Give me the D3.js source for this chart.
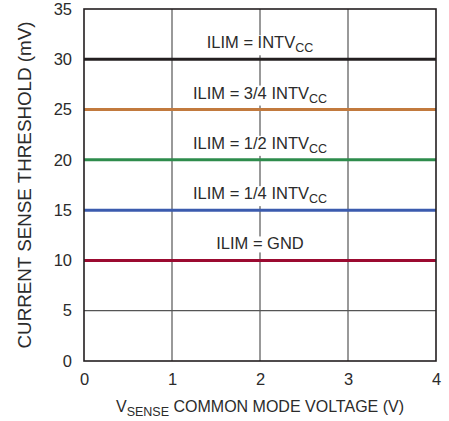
<!DOCTYPE html>
<html lang="en">
<head>
<meta charset="UTF-8">
<title>Current Sense Threshold vs Common Mode Voltage</title>
<script src="https://d3js.org/d3.v7.min.js"></script>
<style>
    body { margin: 0; background: white; }
    svg { display: block; font-family: 'Liberation Sans', Arial, sans-serif; }
    .tick text { font-size: 16.5px; fill: #2b2b2b; }
    .axis-title { font-size: 16px; fill: #2b2b2b; }
    .y-title { font-size: 18.8px; }
    .curve-label { font-size: 16.5px; fill: #2b2b2b; }
</style>
</head>
<body>
<div id="chart"></div>
<script>
// data
const xDomain = [0, 4];
const yDomain = [0, 35];
const xTicks = [0, 1, 2, 3, 4];
const yTicks = [0, 5, 10, 15, 20, 25, 30, 35];
const thresholds = [30, 25, 20, 15, 10];   // mV, flat over whole range
const seriesNames = ["INTV", "3/4 INTV", "1/2 INTV", "1/4 INTV", "GND"];
const seriesColors = ["#231f20", "#c27a3e", "#2e8c4c", "#3b5bae", "#9b0a30"];

const width = 449, height = 421;
const margin = {left: 84, right: 13, top: 9, bottom: 60};

const svg = d3.select("#chart").append("svg")
    .attr("width", width)
    .attr("height", height);

const x = d3.scaleLinear().domain(xDomain).range([margin.left, width - margin.right]);
const y = d3.scaleLinear().domain(yDomain).range([height - margin.bottom, margin.top]);

// grid
svg.append("g").selectAll("line")
    .data(xTicks.slice(1, -1))
    .join("line")
    .attr("x1", d => x(d)).attr("x2", d => x(d))
    .attr("y1", y(35)).attr("y2", y(0))
    .attr("stroke", "#555").attr("stroke-width", 1.2);

svg.append("g").selectAll("line")
    .data(yTicks.slice(1, -1))
    .join("line")
    .attr("x1", x(0)).attr("x2", x(4))
    .attr("y1", d => y(d)).attr("y2", d => y(d))
    .attr("stroke", "#555").attr("stroke-width", 1.2);

// data lines
const line = d3.line().x(d => x(d[0])).y(d => y(d[1]));
svg.append("g").selectAll("path")
    .data(thresholds)
    .join("path")
    .attr("d", v => line([[xDomain[0], v], [xDomain[1], v]]))
    .attr("stroke", (v, i) => seriesColors[i])
    .attr("stroke-width", 3)
    .attr("fill", "none");

// labels with white box behind (breaks the middle grid line)
const labels = svg.append("g");
thresholds.forEach((v, i) => {
    const t = labels.append("text")
        .attr("class", "curve-label")
        .attr("x", x(2))
        .attr("y", y(v) - 11)
        .attr("text-anchor", "middle");
    t.append("tspan").text("ILIM = " + seriesNames[i]);
    if (seriesNames[i] != "GND") {
        t.append("tspan").attr("dy", 4).attr("font-size", "12.5px").text("CC");
    }
    const bb = t.node().getBBox();
    labels.insert("rect", "text")
        .attr("x", bb.x - 2).attr("y", bb.y + 2)
        .attr("width", bb.width + 4).attr("height", bb.height - 2)
        .attr("fill", "white");
});

// frame
svg.append("rect")
    .attr("x", x(0)).attr("y", y(35))
    .attr("width", x(4) - x(0)).attr("height", y(0) - y(35))
    .attr("fill", "none").attr("stroke", "#231f20").attr("stroke-width", 1.6);

// axes
const xAxis = svg.append("g")
    .attr("transform", `translate(0,${y(0)})`)
    .call(d3.axisBottom(x).tickValues(xTicks).tickFormat(d3.format("d")).tickSize(0).tickPadding(12));
const yAxis = svg.append("g")
    .attr("transform", `translate(${x(0)},0)`)
    .call(d3.axisLeft(y).tickValues(yTicks).tickFormat(d3.format("d")).tickSize(0).tickPadding(12));
xAxis.select(".domain").remove();
yAxis.select(".domain").remove();
xAxis.selectAll("text").attr("font-family", null).attr("font-size", null);
yAxis.selectAll("text").attr("font-family", null).attr("font-size", null);

// axis titles
const xt = svg.append("text")
    .attr("class", "axis-title")
    .attr("x", x(2))
    .attr("y", 412)
    .attr("text-anchor", "middle");
xt.append("tspan").text("V");
xt.append("tspan").attr("dy", 4).attr("font-size", "12.5px").text("SENSE");
xt.append("tspan").attr("dy", -4).text(" COMMON MODE VOLTAGE (V)");

svg.append("text")
    .attr("class", "axis-title y-title")
    .attr("transform", `translate(31,${y(17.5)}) rotate(-90)`)
    .attr("text-anchor", "middle")
    .text("CURRENT SENSE THRESHOLD (mV)");
</script>
</body>
</html>
